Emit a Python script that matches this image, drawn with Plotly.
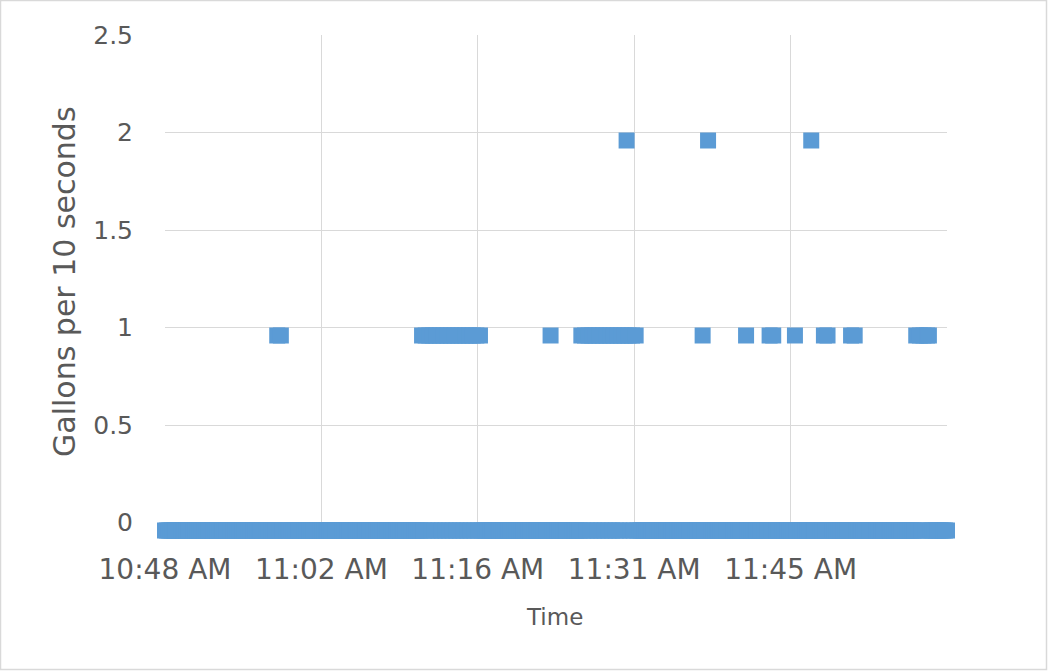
import pandas as pd
import plotly.graph_objects as go

# ---------------- data ----------------
day = "2015-06-01 "
log_start = "10:48:00"
log_end = "12:00:00"
sample_step = "10s"   # logger interval

# readings of 1 gallon per 10 seconds
one_gallon_times = [
    "10:58:20", "10:58:40",
    "11:11:40", "11:12:00", "11:12:20", "11:12:40", "11:13:00", "11:13:20",
    "11:13:40", "11:14:00", "11:14:20", "11:14:40", "11:15:00", "11:15:20",
    "11:15:40", "11:16:00", "11:16:20", "11:16:40", "11:17:00",
    "11:23:30",
    "11:26:20", "11:26:40", "11:27:00", "11:27:20", "11:27:40", "11:28:00",
    "11:28:20", "11:28:40", "11:29:00", "11:29:20", "11:29:40", "11:30:00",
    "11:30:20", "11:30:40", "11:31:00", "11:31:20",
    "11:37:30",
    "11:41:30",
    "11:43:40", "11:44:00",
    "11:46:00",
    "11:48:40", "11:49:00",
    "11:51:10", "11:51:30",
    "11:57:10", "11:57:30", "11:57:50", "11:58:10", "11:58:20",
]
# readings of 2 gallons per 10 seconds
two_gallon_times = ["11:30:30", "11:38:00", "11:47:30"]

x_tick_vals = ["10:48:00", "11:02:24", "11:16:48", "11:31:12", "11:45:36"]
x_tick_text = ["10:48 AM", "11:02 AM", "11:16 AM", "11:31 AM", "11:45 AM"]
y_tick_vals = [0, 0.5, 1, 1.5, 2, 2.5]
y_tick_text = ["0", "0.5", "1", "1.5", "2", "2.5"]

# ---------------- build series ----------------
times = pd.date_range(day + log_start, day + log_end, freq=sample_step)
readings = pd.Series(0.0, index=times)
for t in one_gallon_times:
    readings[pd.Timestamp(day + t)] = 1
for t in two_gallon_times:
    readings[pd.Timestamp(day + t)] = 2

# ---------------- layout geometry (pixels) ----------------
W, H = 1048, 671
L, R, T = 165, 101, 35
B = 131                       # paper area bottom at 540 px
grid_bottom_px = 522.5        # where value 0 gridline sits
marker_zero_px = 530.5        # markers sit a little below their gridline
px_per_unit = 195.0
area_top_px, area_bot_px = T, H - B
area_h = area_bot_px - area_top_px
area_w = W - L - R

grid_domain_low = (area_bot_px - grid_bottom_px) / area_h
data_lo = -(area_bot_px - marker_zero_px) / px_per_unit
data_hi = (marker_zero_px - area_top_px) / px_per_unit

font_fam = "DejaVu Sans, Open Sans, sans-serif"
gray_txt = "#595959"
grid = "#D9D9D9"
blue = "#5B9BD5"

x_range = [day + log_start, day + log_end]

fig = go.Figure()
# empty trace so that the gridded axis pair is drawn
fig.add_trace(go.Scatter(x=[], y=[], xaxis="x", yaxis="y",
                         showlegend=False, hoverinfo="skip"))
fig.add_trace(go.Scatter(
    x=readings.index, y=readings.values, mode="markers",
    marker=dict(symbol="square", size=16, color=blue,
                line=dict(width=0)),
    cliponaxis=False, xaxis="x2", yaxis="y2", showlegend=False,
))

fig.update_layout(
    width=W, height=H,
    margin=dict(l=L, r=R, t=T, b=B),
    paper_bgcolor="white", plot_bgcolor="rgba(0,0,0,0)",
    font=dict(family=font_fam, color=gray_txt),
    xaxis=dict(
        type="date", range=x_range, anchor="y", domain=[0, 1],
        tickmode="array",
        tickvals=[day + v for v in x_tick_vals],
        ticktext=x_tick_text,
        showgrid=True, gridcolor=grid, gridwidth=1,
        zeroline=False, showline=False,
        ticks="outside", ticklen=22, tickcolor="rgba(0,0,0,0)",
        tickfont=dict(size=28, color=gray_txt, family=font_fam),
    ),
    yaxis=dict(
        range=[0, 2.5], anchor="x", domain=[grid_domain_low, 1],
        tickmode="array", tickvals=y_tick_vals, ticktext=y_tick_text,
        showgrid=True, gridcolor=grid, gridwidth=1,
        zeroline=False, showline=False,
        ticks="outside", ticklen=26, tickcolor="rgba(0,0,0,0)",
        tickfont=dict(size=25, color=gray_txt, family=font_fam),
    ),
    xaxis2=dict(type="date", range=x_range, anchor="y2", domain=[0, 1],
                visible=False, showgrid=False),
    yaxis2=dict(range=[data_lo, data_hi], anchor="x2", domain=[0, 1],
                visible=False, showgrid=False),
    annotations=[
        dict(text="Gallons per 10 seconds", textangle=-90,
             xref="paper", yref="paper",
             x=(64 - L) / area_w, y=(area_bot_px - 282) / area_h,
             xanchor="center", yanchor="middle", showarrow=False,
             font=dict(size=30, color=gray_txt, family=font_fam)),
        dict(text="Time", xref="paper", yref="paper",
             x=(554 - L) / area_w, y=(area_bot_px - 617) / area_h,
             xanchor="center", yanchor="middle", showarrow=False,
             font=dict(size=23, color=gray_txt, family=font_fam)),
    ],
    shapes=[
        dict(type="rect", xref="paper", yref="paper",
             x0=(0.5 - L) / area_w, x1=(W - 1.5 - L) / area_w,
             y0=(area_bot_px - (H - 1.5)) / area_h,
             y1=(area_bot_px - 0.5) / area_h,
             line=dict(color=grid, width=1.5), fillcolor="rgba(0,0,0,0)",
             layer="below"),
    ],
)

fig.write_html("out.html",
               config={"displayModeBar": False},
               post_script="document.body.style.margin='0';"
                           "document.body.style.overflow='hidden';")
